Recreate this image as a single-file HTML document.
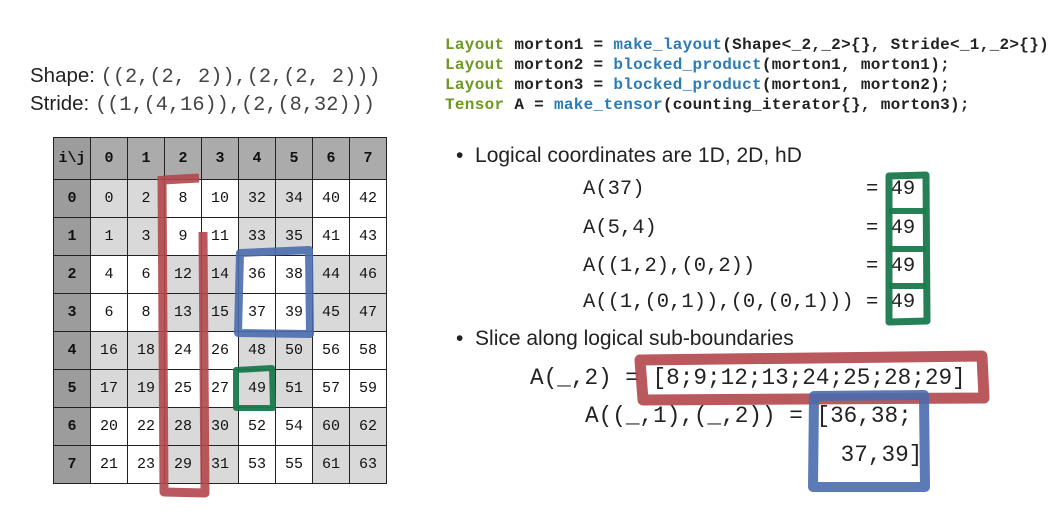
<!DOCTYPE html>
<html><head><meta charset="utf-8"><style>
body{margin:0;width:1064px;height:519px;background:#fff;position:relative;overflow:hidden;font-family:"Liberation Sans",sans-serif;color:#222}
.a{position:absolute;white-space:pre;line-height:1}
.m{font-family:"Liberation Mono",monospace}
.code{font-family:"Liberation Mono",monospace;font-weight:bold;font-size:16px;letter-spacing:0.3px;color:#222}
.g{color:#6b9a1e}.b{color:#2b7bb5}
.c{position:absolute;box-sizing:border-box;border-right:1px solid #222;border-bottom:1px solid #222;font-family:"Liberation Mono",monospace;font-size:15px;display:flex;align-items:center;justify-content:center;color:#111}
</style></head><body>
<div class="a" style="left:30px;top:66px;font-size:20.5px">Shape: <span class="m" style="color:#444;font-size:20.3px">((2,(2, 2)),(2,(2, 2)))</span></div>
<div class="a" style="left:30px;top:94px;font-size:20.5px">Stride: <span class="m" style="color:#444;font-size:20.3px">((1,(4,16)),(2,(8,32)))</span></div>

<div class="a code" style="left:445px;top:37px"><span class="g">Layout</span> morton1 = <span class="b">make_layout</span>(Shape&lt;_2,_2&gt;{}, Stride&lt;_1,_2&gt;{})</div>
<div class="a code" style="left:445px;top:57px"><span class="g">Layout</span> morton2 = <span class="b">blocked_product</span>(morton1, morton1);</div>
<div class="a code" style="left:445px;top:77px"><span class="g">Layout</span> morton3 = <span class="b">blocked_product</span>(morton1, morton2);</div>
<div class="a code" style="left:445px;top:97px"><span class="g">Tensor</span> A = <span class="b">make_tensor</span>(counting_iterator{}, morton3);</div>

<div id="tbl"></div>
<script>
var t=document.getElementById('tbl'),h='';
var L=53,T=137,W0=37,W=37,H0=42,H=38;
h+='<div class="c" style="left:'+L+'px;top:'+T+'px;width:'+(W0+1)+'px;height:'+(H0+1)+'px;background:#9c9c9c;font-weight:bold;border-left:1px solid #222;border-top:1px solid #222">i\\j</div>';
for(var j=0;j<8;j++)h+='<div class="c" style="left:'+(L+W0+j*W+1)+'px;top:'+T+'px;width:'+W+'px;height:'+(H0+1)+'px;background:#ababab;font-weight:bold;border-top:1px solid #222">'+j+'</div>';
function mort(i,j){return (i&1)+((i>>1)&1)*4+((i>>2)&1)*16+(j&1)*2+((j>>1)&1)*8+((j>>2)&1)*32;}
for(var i=0;i<8;i++){
 var y=T+H0+1+i*H;
 h+='<div class="c" style="left:'+L+'px;top:'+y+'px;width:'+(W0+1)+'px;height:'+H+'px;background:#9c9c9c;font-weight:bold;border-left:1px solid #222">'+i+'</div>';
 for(var j=0;j<8;j++){
  var gray=(((i>>1)+(j>>1))%2)==0;
  var v=mort(i,j); if(i==3&&j==0)v=6; if(i==3&&j==1)v=8;
  h+='<div class="c" style="left:'+(L+W0+j*W+1)+'px;top:'+y+'px;width:'+W+'px;height:'+H+'px;background:'+(gray?'#d9d9d9':'#fff')+'">'+v+'</div>';
 }
}
t.innerHTML=h;
</script>

<div class="a" style="left:456px;top:145px;font-size:21px">•&nbsp; Logical coordinates are 1D, 2D, hD</div>
<div class="a m" style="left:583px;top:180px;font-size:20.5px">A(37)</div>
<div class="a m" style="left:583px;top:219px;font-size:20.5px">A(5,4)</div>
<div class="a m" style="left:583px;top:257px;font-size:20.5px">A((1,2),(0,2))</div>
<div class="a m" style="left:583px;top:293px;font-size:20.5px">A((1,(0,1)),(0,(0,1)))</div>
<div class="a m" style="left:866px;top:180px;font-size:20.5px">= 49</div>
<div class="a m" style="left:866px;top:219px;font-size:20.5px">= 49</div>
<div class="a m" style="left:866px;top:257px;font-size:20.5px">= 49</div>
<div class="a m" style="left:866px;top:293px;font-size:20.5px">= 49</div>

<div class="a" style="left:456px;top:328px;font-size:21px">•&nbsp; Slice along logical sub-boundaries</div>
<div class="a m" style="left:530px;top:367px;font-size:22.7px">A(_,2) = [8;9;12;13;24;25;28;29]</div>
<div class="a m" style="left:585px;top:405px;font-size:22.7px">A((_,1),(_,2)) = [36,38;</div>
<div class="a m" style="left:827px;top:444px;font-size:22.7px"> 37,39]</div>

<svg class="a" style="left:0;top:0" width="1064" height="519" fill="none" stroke-linejoin="round">
 <g stroke="#b2474b" stroke-opacity="0.9">
  <path d="M163 180 L199 178 M162 176 L164 492 L205 493 L203 232" stroke-width="9"/>
  <path d="M640 360 L982 356 L984 398 L643 400 Z" stroke-width="11"/>
 </g>
 <g stroke="#4a6cad" stroke-opacity="0.9">
  <path d="M240 253 L309 250 L310 334 L238 333 Z" stroke-width="8"/>
  <path d="M814 396 L924 395 L925 487 L813 487 Z" stroke-width="10"/>
 </g>
 <g stroke="#197a4c" stroke-opacity="0.95">
  <path d="M236 370 L272 368 L273 408 L236 408 Z" stroke-width="6"/>
  <path d="M889 176 L926 175 L927 321 L889 322 Z" stroke-width="7"/>
  <path d="M889 211 L926 211 M889 249 L926 249 M889 286 L926 286" stroke-width="6"/>
 </g>
</svg>
</body></html>
